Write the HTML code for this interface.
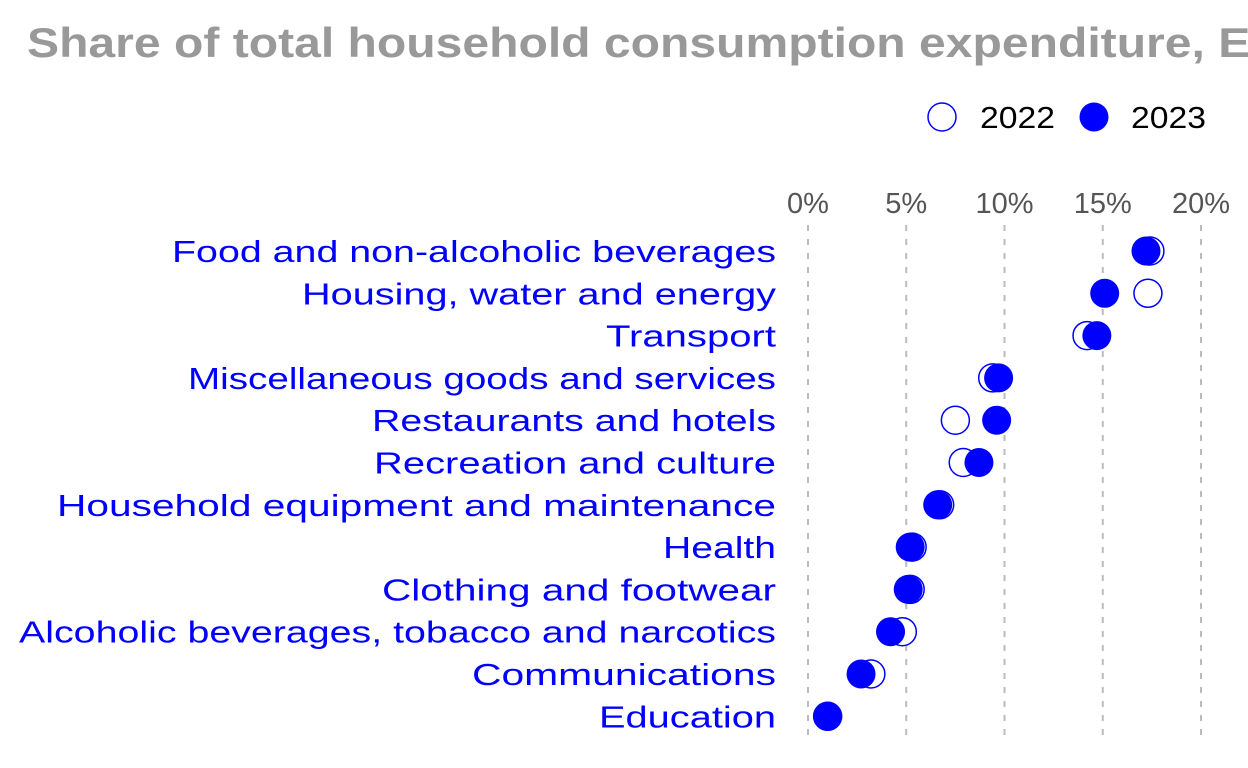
<!DOCTYPE html>
<html><head><meta charset="utf-8"><style>
html,body{margin:0;padding:0;background:#fff;}
svg{display:block;font-family:"Liberation Sans",sans-serif;}
</style></head><body>
<svg id="chart" width="1248" height="768" viewBox="0 0 1248 768" xmlns="http://www.w3.org/2000/svg">
<text x="27" y="57" font-size="42" font-weight="bold" fill="#999" textLength="1258" lengthAdjust="spacingAndGlyphs">Share of total household consumption expenditure, EU</text>
<g>
<circle cx="942" cy="117" r="14" fill="#fff" stroke="#00f" stroke-width="1.5"/>
<text x="980" y="128" font-size="31" fill="#000" textLength="75" lengthAdjust="spacingAndGlyphs">2022</text>
<circle cx="1094" cy="117" r="14.5" fill="#00f"/>
<text x="1131" y="128" font-size="31" fill="#000" textLength="75" lengthAdjust="spacingAndGlyphs">2023</text>
</g>
<g id="plot"></g>
</svg>
<script>
const categories = ["Food and non-alcoholic beverages","Housing, water and energy","Transport","Miscellaneous goods and services","Restaurants and hotels","Recreation and culture","Household equipment and maintenance","Health","Clothing and footwear","Alcoholic beverages, tobacco and narcotics","Communications","Education"];
const values2022 = [17.4,17.3,14.2,9.4,7.5,7.9,6.7,5.3,5.2,4.8,3.2,1.0];
const values2023 = [17.2,15.1,14.7,9.7,9.6,8.7,6.6,5.2,5.1,4.2,2.7,1.0];
const tickValues = [0,5,10,15,20];
const tickLabels = ["0%","5%","10%","15%","20%"];
const labelWidths = [604,474,170,588,404,402,719,113,394,757,304,177];

const NS = "http://www.w3.org/2000/svg";
const plot = document.getElementById('plot');
const x = v => 808 + v * 19.65;
const y = i => 251 + i * 42.3;
function mk(tag, attrs){ const e=document.createElementNS(NS,tag); for(const k in attrs) e.setAttribute(k,attrs[k]); plot.appendChild(e); return e; }

tickValues.forEach((t,i)=>{
  const g = mk('line',{x1:x(t),x2:x(t),y1:225,y2:742,stroke:'#bbb','stroke-width':2,'stroke-dasharray':'6 8'});
  
  
  const l = mk('text',{x:x(t),y:213,'font-size':29,fill:'#555','text-anchor':'middle'});
  
  
  l.textContent = tickLabels[i];
});
categories.forEach((c,i)=>{
  const t = mk('text',{x:776,y:y(i)+11,'font-size':31,fill:'#00f','text-anchor':'end',textLength:labelWidths[i],lengthAdjust:'spacingAndGlyphs'});
  
  
  t.textContent = c;
  const a = mk('circle',{cx:x(values2022[i]),cy:y(i),r:14,fill:'#fff',stroke:'#00f','stroke-width':1.5});
  
  
  const b = mk('circle',{cx:x(values2023[i]),cy:y(i),r:14.5,fill:'#00f'});
  
  
});
</script>
</body></html>
